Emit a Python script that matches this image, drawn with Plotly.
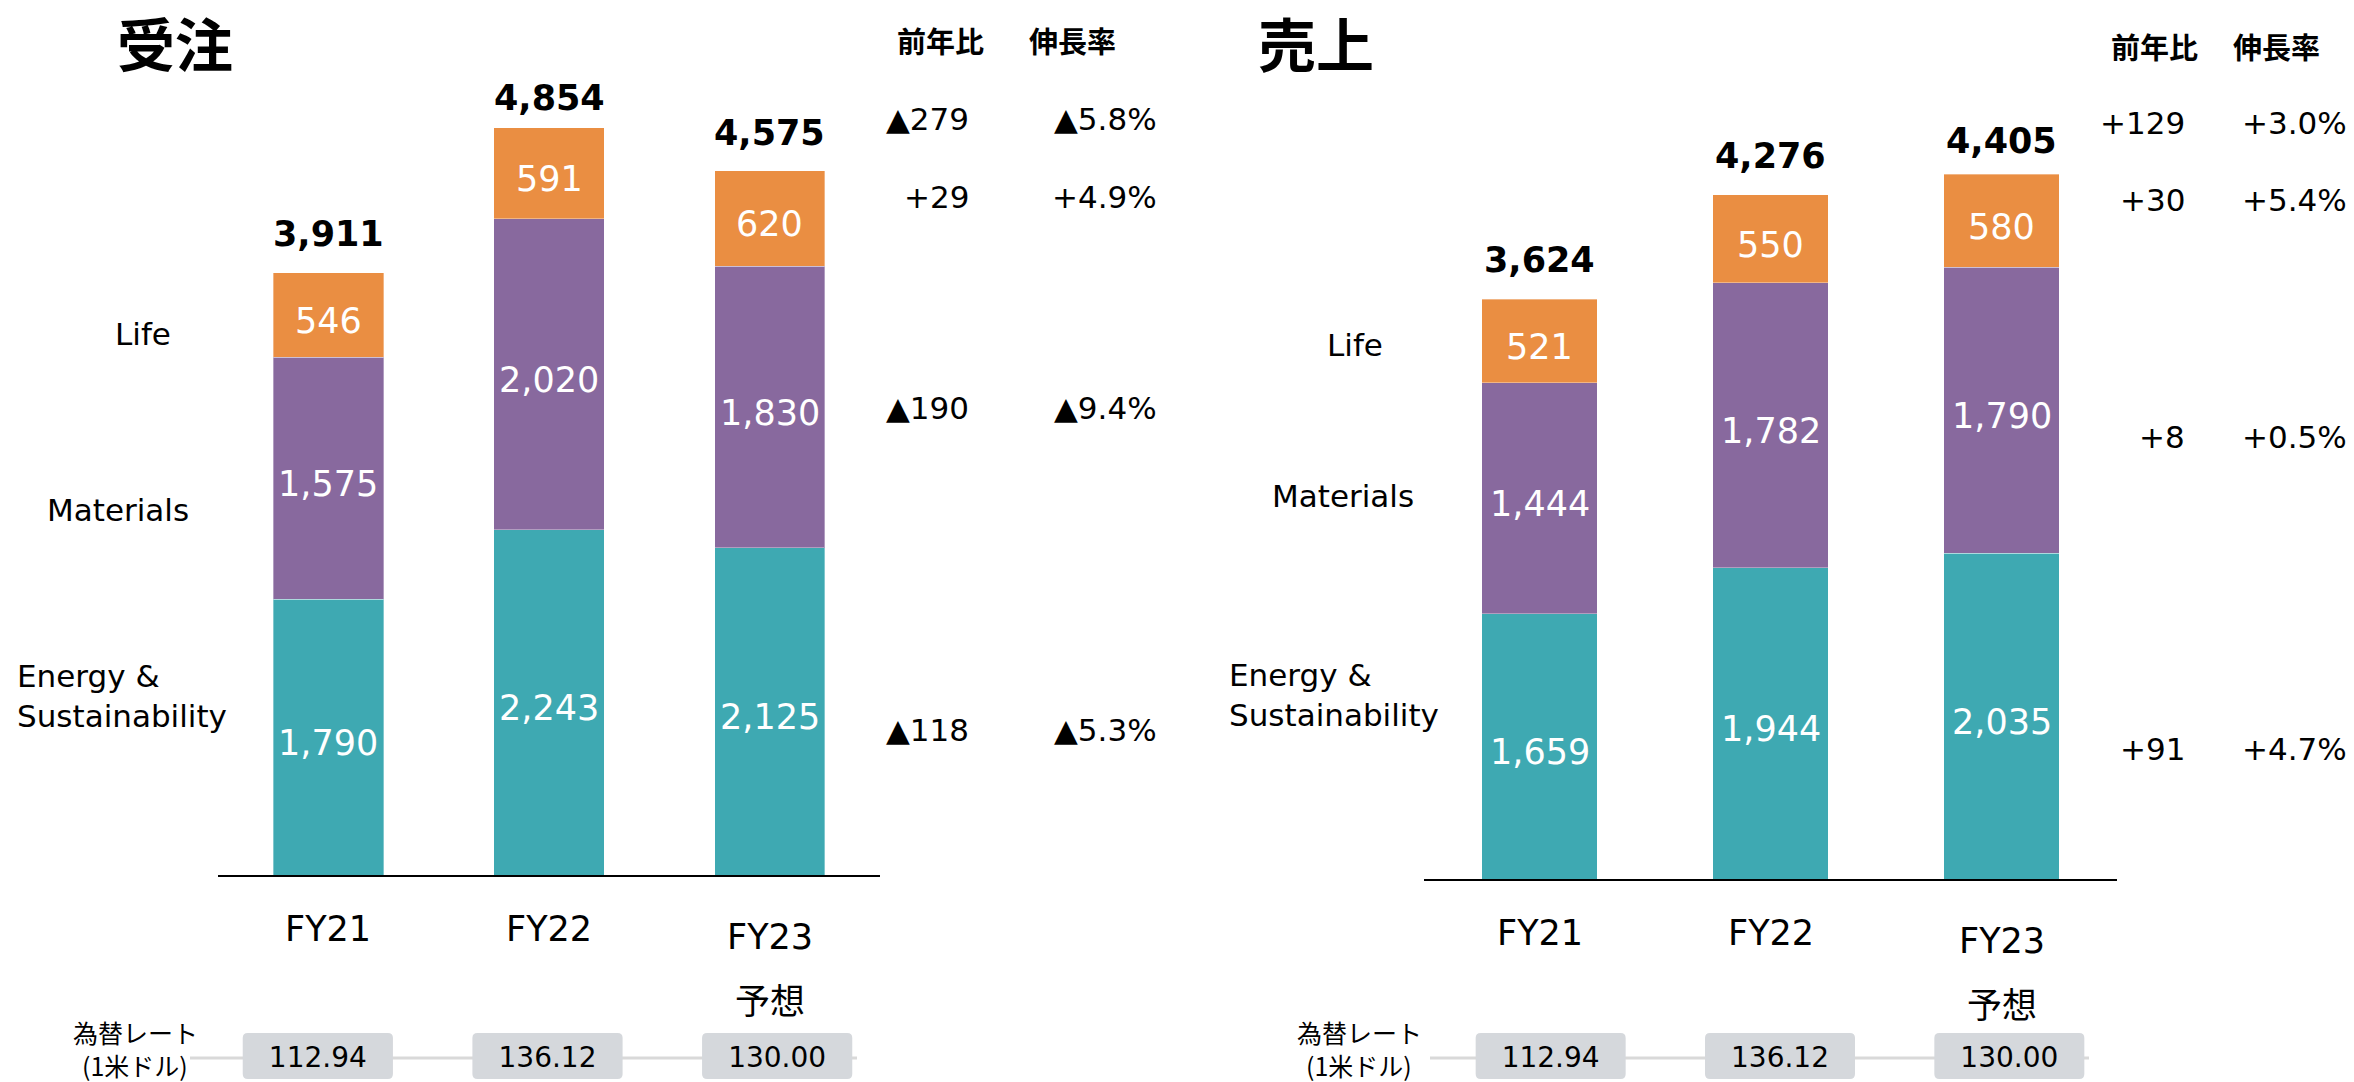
import plotly.graph_objects as go

W, H = 2354, 1082

# ---------------- data ----------------
categories = ["FY21", "FY22", "FY23"]
category_notes = ["", "", "予想"]
segment_names = ["Life", "Materials", "Energy &<br>Sustainability"]

orders_energy = [1790, 2243, 2125]
orders_materials = [1575, 2020, 1830]
orders_life = [546, 591, 620]
orders_total = [3911, 4854, 4575]

sales_energy = [1659, 1944, 2035]
sales_materials = [1444, 1782, 1790]
sales_life = [521, 550, 580]
sales_total = [3624, 4276, 4405]

fx_rates = ["112.94", "136.12", "130.00"]

# rows: total, Life, Materials, Energy
orders_diff = ["▲279", "+29", "▲190", "▲118"]
orders_growth = ["▲5.8%", "+4.9%", "▲9.4%", "▲5.3%"]
sales_diff = ["+129", "+30", "+8", "+91"]
sales_growth = ["+3.0%", "+5.4%", "+0.5%", "+4.7%"]

titles = ["受注", "売上"]
col_headers = ["前年比", "伸長率"]
fx_label = ["為替レート", "(1米ドル)"]

# ---------------- style ----------------
TEAL = "#3EA9B2"
PURPLE = "#88699E"
ORANGE = "#EA8E42"
LAT = "DejaVu Sans, Noto Sans CJK JP, sans-serif"
CJK = "Noto Sans CJK JP, sans-serif"


def px(x):
    return x / W


def py(y):
    return 1 - y / H


fig = go.Figure()

panels = [
    dict(x="x", y="y", x3="x3", y3="y3",
         e=orders_energy, m=orders_materials, l=orders_life, t=orders_total,
         shifts=[39, 30, 38]),
    dict(x="x2", y="y2", x3="x4", y3="y4",
         e=sales_energy, m=sales_materials, l=sales_life, t=sales_total,
         shifts=[39, 39, 33]),
]

for p in panels:
    for vals, col in [(p["e"], TEAL), (p["m"], PURPLE), (p["l"], ORANGE)]:
        fig.add_trace(go.Bar(
            x=categories, y=vals, width=0.5, marker_color=col,
            marker_line_color="rgba(255,255,255,0.35)", marker_line_width=1,
            xaxis=p["x"], yaxis=p["y"], hoverinfo="skip", showlegend=False))
    # segment labels at segment mid points
    mids_e = [e / 2 for e in p["e"]]
    mids_m = [e + m / 2 for e, m in zip(p["e"], p["m"])]
    mids_l = [e + m + l / 2 for e, m, l in zip(p["e"], p["m"], p["l"])]
    for mids, vals in [(mids_e, p["e"]), (mids_m, p["m"]), (mids_l, p["l"])]:
        for c, yv, v in zip(categories, mids, vals):
            fig.add_annotation(x=c, y=yv, xref=p["x"], yref=p["y"], text=f"{v:,}",
                               showarrow=False, yanchor="middle", yshift=-6,
                               font=dict(family=LAT, size=35, color="white"))
    # totals
    for c, t, s in zip(categories, p["t"], p["shifts"]):
        fig.add_annotation(x=c, y=t, xref=p["x"], yref=p["y"], text=f"<b>{t:,}</b>",
                           showarrow=False, yanchor="middle", yshift=s,
                           font=dict(family=LAT, size=35, color="black"))
    # fx rates
    fig.add_trace(go.Scatter(
        x=[0, 1, 2], y=[0, 0, 0], mode="text", text=fx_rates,
        textfont=dict(family=LAT, size=28, color="black"),
        xaxis=p["x3"], yaxis=p["y3"], hoverinfo="skip", showlegend=False))

axis_common = dict(showgrid=False, zeroline=False, fixedrange=True)
fig.update_layout(
    width=W, height=H, autosize=False,
    margin=dict(l=0, r=0, t=0, b=0, pad=0),
    paper_bgcolor="white", plot_bgcolor="rgba(0,0,0,0)",
    barmode="stack", showlegend=False,
    xaxis=dict(domain=[px(218), px(880)], type="category", range=[-0.5, 2.5],
               showline=True, linecolor="black", linewidth=2, ticks="",
               showticklabels=False, anchor="y", **axis_common),
    yaxis=dict(domain=[py(875), py(13)], range=[0, 5600], visible=False,
               anchor="x", **axis_common),
    xaxis2=dict(domain=[px(1424), px(2117)], type="category", range=[-0.5, 2.5],
                showline=True, linecolor="black", linewidth=2, ticks="",
                showticklabels=False, anchor="y2", **axis_common),
    yaxis2=dict(domain=[py(879), py(15)], range=[0, 5400], visible=False,
                anchor="x2", **axis_common),
    xaxis3=dict(domain=[px(203), px(892)], range=[-0.5, 2.5], visible=False,
                anchor="y3", **axis_common),
    yaxis3=dict(domain=[py(1082), py(1038)], range=[-1, 1], visible=False,
                anchor="x3", **axis_common),
    xaxis4=dict(domain=[px(1436), px(2124)], range=[-0.5, 2.5], visible=False,
                anchor="y4", **axis_common),
    yaxis4=dict(domain=[py(1082), py(1038)], range=[-1, 1], visible=False,
                anchor="x4", **axis_common),
)

# fx row: gray connector lines and rounded boxes
for (x0, x1) in [(190, 857), (1430, 2089)]:
    fig.add_shape(type="line", xref="paper", yref="paper", x0=px(x0), x1=px(x1),
                  y0=py(1058), y1=py(1058), line=dict(color="#D9D9D9", width=3),
                  layer="below")


def rounded_box(xc, half, ytop, ybot, rx, ry):
    l, r = xc - half, xc + half
    t, b = py(ytop), py(ybot)
    return (f"M {l+rx},{t} L {r-rx},{t} Q {r},{t} {r},{t-ry} "
            f"L {r},{b+ry} Q {r},{b} {r-rx},{b} L {l+rx},{b} "
            f"Q {l},{b} {l},{b+ry} L {l},{t-ry} Q {l},{t} {l+rx},{t} Z")


for xr in ["x3", "x4"]:
    for i in range(len(fx_rates)):
        fig.add_shape(type="path", xref=xr, yref="paper",
                      path=rounded_box(i, 0.327, 1033, 1079, 0.022, 5 / H),
                      fillcolor="#D5D8DC", line=dict(width=0), layer="below")

# category labels under axes
for xr, ypx, ypx3 in [("x", 929, 937), ("x2", 933, 941)]:
    for i, (c, n) in enumerate(zip(categories, category_notes)):
        yy = ypx3 if n else ypx
        fig.add_annotation(x=c, y=py(yy), xref=xr, yref="paper", text=c, showarrow=False,
                           yanchor="middle", font=dict(family=LAT, size=35, color="black"))
        if n:
            fig.add_annotation(x=c, y=py(yy + 61), xref=xr, yref="paper", text=n,
                               showarrow=False, yanchor="middle",
                               font=dict(family=CJK, size=35, color="black"))


def ann(x, y, text, size, family=LAT, xanchor="center", bold=False, align="center"):
    fig.add_annotation(x=px(x), y=py(y), xref="paper", yref="paper",
                       text=f"<b>{text}</b>" if bold else text, showarrow=False,
                       xanchor=xanchor, yanchor="middle", align=align,
                       font=dict(family=family, size=size, color="black"))


# titles & headers
ann(175, 42, titles[0], 58, CJK, bold=True)
ann(1316, 42, titles[1], 58, CJK, bold=True)
ann(940, 40, col_headers[0], 29, CJK, bold=True)
ann(1072, 40, col_headers[1], 29, CJK, bold=True)
ann(2154, 46, col_headers[0], 29, CJK, bold=True)
ann(2276, 46, col_headers[1], 29, CJK, bold=True)

# segment names
ann(143, 334, segment_names[0], 31)
ann(118, 510, segment_names[1], 31)
ann(15, 696, segment_names[2], 31, xanchor="left", align="left")
ann(1355, 345, segment_names[0], 31)
ann(1343, 496, segment_names[1], 31)
ann(1227, 695, segment_names[2], 31, xanchor="left", align="left")

# yoy differences
for yy, d, g in zip([119, 197, 408, 730], orders_diff, orders_growth):
    ann(971, yy, d, 31, xanchor="right")
    ann(1159, yy, g, 31, xanchor="right")
for yy, d, g in zip([123, 200, 437, 749], sales_diff, sales_growth):
    ann(2187, yy, d, 31, xanchor="right")
    ann(2349, yy, g, 31, xanchor="right")

# fx label
ann(135, 1032, fx_label[0], 25, CJK)
ann(135, 1065, fx_label[1], 25, CJK)
ann(1359, 1032, fx_label[0], 25, CJK)
ann(1359, 1065, fx_label[1], 25, CJK)

fig.write_html(
    "out.html",
    config={"displayModeBar": False, "staticPlot": True},
    post_script="document.body.style.margin='0';document.body.style.overflow='hidden';",
)
